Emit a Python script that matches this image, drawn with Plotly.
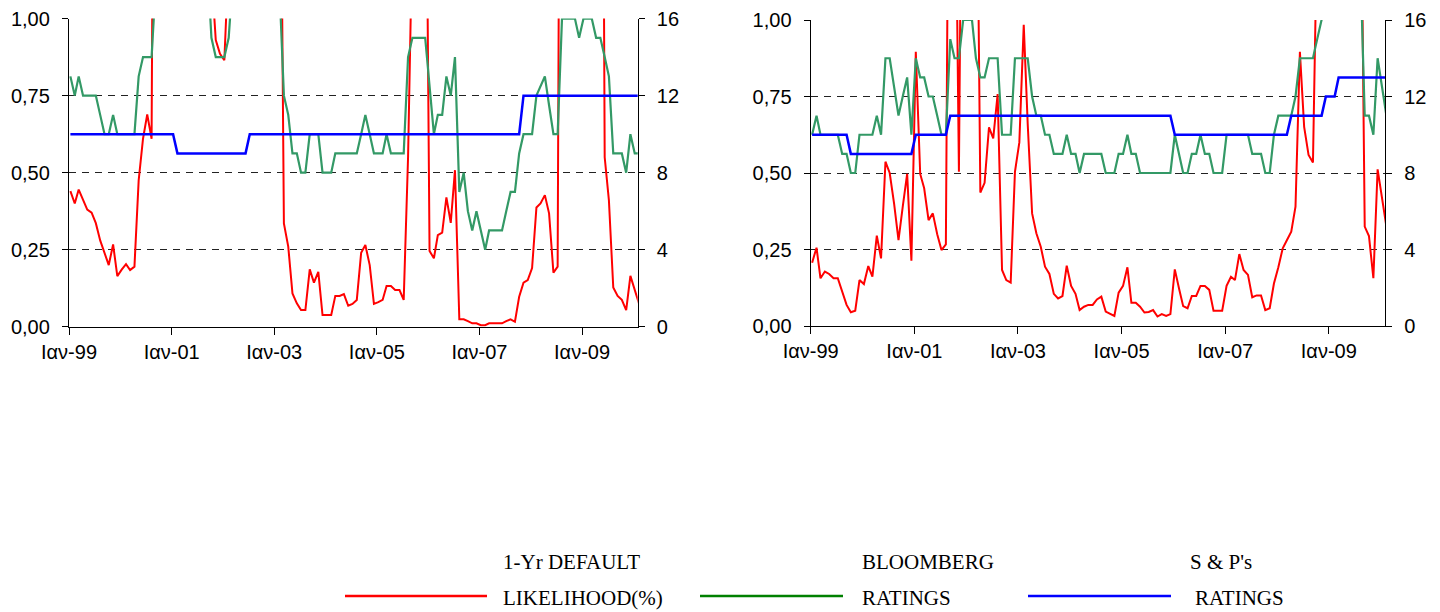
import pandas as pd
import plotly.graph_objects as go

# ---------------- data (monthly, Jan-1999 .. Feb-2010) ----------------
dates = pd.date_range("1999-01-01", periods=134, freq="MS") + pd.Timedelta(days=10)

tick_dates = ["1999-01-01", "2001-01-01", "2003-01-01", "2005-01-01", "2007-01-01", "2009-01-01"]
tick_labels = ["Ιαν-99", "Ιαν-01", "Ιαν-03", "Ιαν-05", "Ιαν-07", "Ιαν-09"]
left_ticks = [0, 0.25, 0.5, 0.75, 1.0]
left_labels = ["0,00", "0,25", "0,50", "0,75", "1,00"]
right_ticks = [0, 4, 8, 12, 16]
right_labels = ["0", "4", "8", "12", "16"]

# left chart
red_left = [0.44, 0.40, 0.445, 0.41, 0.38, 0.37, 0.336, 0.28, 0.24, 0.20,
            0.267, 0.164, 0.185, 0.203, 0.184, 0.195, 0.475, 0.61, 0.689, 0.61,
            3.4, 4.1, 4.6, 5.2, 4.8, 5.5, 6.1, 5.7, 4.9, 4.3,
            3.9, 3.5, 2.6, 1.15, 0.93, 0.886, 0.865, 1.2, 2.4, 3.1,
            3.6, 4.2, 4.8, 4.4, 3.9, 3.5, 3.2, 2.9, 2.6, 1.9,
            0.335, 0.26, 0.108, 0.076, 0.054, 0.054, 0.186, 0.143, 0.178, 0.038,
            0.038, 0.038, 0.10, 0.10, 0.106, 0.068, 0.074, 0.087, 0.24, 0.265,
            0.20, 0.074, 0.08, 0.087, 0.132, 0.132, 0.119, 0.119, 0.087, 0.55,
            1.3, 2.5, 2.8, 2.0, 0.246, 0.222, 0.297, 0.305, 0.42, 0.337,
            0.508, 0.024, 0.024, 0.018, 0.011, 0.011, 0.005, 0.005, 0.011, 0.011,
            0.011, 0.011, 0.018, 0.024, 0.016, 0.097, 0.143, 0.151, 0.19, 0.387,
            0.40, 0.427, 0.368, 0.175, 0.195, 3.6, 3.9, 4.3, 4.0, 4.5,
            4.1, 3.8, 3.4, 3.0, 3.6, 0.55, 0.41, 0.127, 0.10, 0.087,
            0.054, 0.165, 0.12, 0.074]

green_left = [13, 12, 13, 12, 12, 12, 12, 11, 10, 10,
              11, 10, 10, 10, 10, 10, 13, 14, 14, 14,
              18, 19, 19, 20, 19, 18, 19, 20, 20, 19,
              19, 20, 19, 15, 14, 14, 14, 15, 18, 19,
              19, 20, 19, 19, 18, 18, 19, 18, 18, 17,
              12, 11, 9, 9, 8, 8, 10, 10, 10, 8,
              8, 8, 9, 9, 9, 9, 9, 9, 10, 11,
              10, 9, 9, 9, 10, 9, 9, 9, 9, 14,
              15, 15, 15, 15, 12.5, 10, 11, 11, 13, 12,
              14, 7, 8, 6, 5, 6, 5, 4, 5, 5,
              5, 5, 6, 7, 7, 9, 10, 10, 10, 12,
              12.5, 13, 11.5, 10, 10, 16, 16, 16, 16, 15,
              16, 16, 16, 15, 15, 14, 13, 9, 9, 9,
              8, 10, 9, 9]

blue_left = [10, 10, 10, 10, 10, 10, 10, 10, 10, 10,
             10, 10, 10, 10, 10, 10, 10, 10, 10, 10,
             10, 10, 10, 10, 10, 9, 9, 9, 9, 9,
             9, 9, 9, 9, 9, 9, 9, 9, 9, 9,
             9, 9, 10, 10, 10, 10, 10, 10, 10, 10,
             10, 10, 10, 10, 10, 10, 10, 10, 10, 10,
             10, 10, 10, 10, 10, 10, 10, 10, 10, 10,
             10, 10, 10, 10, 10, 10, 10, 10, 10, 10,
             10, 10, 10, 10, 10, 10, 10, 10, 10, 10,
             10, 10, 10, 10, 10, 10, 10, 10, 10, 10,
             10, 10, 10, 10, 10, 10, 12, 12, 12, 12,
             12, 12, 12, 12, 12, 12, 12, 12, 12, 12,
             12, 12, 12, 12, 12, 12, 12, 12, 12, 12,
             12, 12, 12, 12]

# right chart
red_right = [0.207, 0.256, 0.156, 0.178, 0.170, 0.156, 0.156, 0.112, 0.069, 0.045,
             0.050, 0.150, 0.137, 0.196, 0.161, 0.295, 0.221, 0.537, 0.50, 0.40,
             0.281, 0.39, 0.497, 0.213, 0.896, 0.497, 0.45, 0.346, 0.368, 0.30,
             0.248, 0.267, 2.5, 1.8, 0.504, 2.2, 3.0, 2.6, 1.9, 0.436,
             0.468, 0.649, 0.613, 0.758, 0.183, 0.150, 0.142, 0.504, 0.60, 0.984,
             0.66, 0.368, 0.303, 0.259, 0.194, 0.170, 0.105, 0.090, 0.098, 0.197,
             0.131, 0.105, 0.052, 0.063, 0.069, 0.069, 0.087, 0.096, 0.047, 0.041,
             0.033, 0.109, 0.131, 0.192, 0.076, 0.076, 0.063, 0.044, 0.046, 0.052,
             0.031, 0.039, 0.033, 0.039, 0.185, 0.12, 0.065, 0.058, 0.098, 0.098,
             0.131, 0.131, 0.118, 0.05, 0.05, 0.05, 0.131, 0.161, 0.150, 0.235,
             0.183, 0.167, 0.094, 0.10, 0.10, 0.052, 0.058, 0.139, 0.192, 0.254,
             0.28, 0.308, 0.39, 0.896, 0.651, 0.559, 0.534, 1.4, 3.1, 3.7,
             4.2, 4.6, 4.3, 3.9, 3.4, 2.9, 2.5, 1.7, 0.325, 0.294,
             0.156, 0.512, 0.42, 0.325]

green_right = [10, 11, 10, 10, 10, 10, 10, 9, 9, 8,
               8, 10, 10, 10, 10, 11, 10, 14, 14, 12.5,
               11, 12, 13, 10, 14, 13, 13, 12, 12, 11,
               10, 10, 15, 14, 14, 16, 16, 16, 14, 13,
               13, 14, 14, 14, 10, 10, 10, 14, 14, 14,
               14, 12, 11, 11, 10, 10, 9, 9, 9, 10,
               9, 9, 8, 9, 9, 9, 9, 9, 8, 8,
               8, 9, 9, 10, 9, 9, 8, 8, 8, 8,
               8, 8, 8, 8, 10, 9, 8, 8, 9, 9,
               10, 9, 9, 8, 8, 8, 10, 10, 10, 10,
               10, 10, 9, 9, 9, 8, 8, 10, 11, 11,
               11, 11, 12, 14, 14, 14, 14, 15, 16, 17,
               18, 18, 19, 18, 18, 17, 18, 19, 11, 11,
               10, 14, 12.5, 11]

blue_right = [10, 10, 10, 10, 10, 10, 10, 10, 10, 9,
              9, 9, 9, 9, 9, 9, 9, 9, 9, 9,
              9, 9, 9, 9, 10, 10, 10, 10, 10, 10,
              10, 10, 11, 11, 11, 11, 11, 11, 11, 11,
              11, 11, 11, 11, 11, 11, 11, 11, 11, 11,
              11, 11, 11, 11, 11, 11, 11, 11, 11, 11,
              11, 11, 11, 11, 11, 11, 11, 11, 11, 11,
              11, 11, 11, 11, 11, 11, 11, 11, 11, 11,
              11, 11, 11, 11, 10, 10, 10, 10, 10, 10,
              10, 10, 10, 10, 10, 10, 10, 10, 10, 10,
              10, 10, 10, 10, 10, 10, 10, 10, 10, 10,
              10, 11, 11, 11, 11, 11, 11, 11, 11, 12,
              12, 12, 13, 13, 13, 13, 13, 13, 13, 13,
              13, 13, 13, 13]

legend_names = [("1-Yr DEFAULT", "LIKELIHOOD(%)"), ("BLOOMBERG", "RATINGS"), ("S & P's", "RATINGS")]

RED, GREEN, BLUE = "#ff0000", "#339966", "#0000ff"

# the page body has an 8px margin: size the figure so it fills the window exactly
OFF = 8
W, H = 1440 - OFF, 612 - OFF


def px(x):
    return (x - OFF) / W


def py(y):
    return 1 - (y - OFF) / H


fig = go.Figure()
fig.add_trace(go.Scatter(x=dates, y=red_left, xaxis="x", yaxis="y", mode="lines",
                         line=dict(color=RED, width=2), showlegend=False, name="1-Yr DEFAULT LIKELIHOOD(%)"))
fig.add_trace(go.Scatter(x=dates, y=green_left, xaxis="x", yaxis="y2", mode="lines",
                         line=dict(color=GREEN, width=2.2), showlegend=False, name="BLOOMBERG RATINGS"))
fig.add_trace(go.Scatter(x=dates, y=blue_left, xaxis="x", yaxis="y2", mode="lines",
                         line=dict(color=BLUE, width=2.5), showlegend=False, name="S & P's RATINGS"))
fig.add_trace(go.Scatter(x=dates, y=red_right, xaxis="x2", yaxis="y3", mode="lines",
                         line=dict(color=RED, width=2), showlegend=False, name="1-Yr DEFAULT LIKELIHOOD(%)"))
fig.add_trace(go.Scatter(x=dates, y=green_right, xaxis="x2", yaxis="y4", mode="lines",
                         line=dict(color=GREEN, width=2.2), showlegend=False, name="BLOOMBERG RATINGS"))
fig.add_trace(go.Scatter(x=dates, y=blue_right, xaxis="x2", yaxis="y4", mode="lines",
                         line=dict(color=BLUE, width=2.5), showlegend=False, name="S & P's RATINGS"))

tickfont = dict(family="Liberation Sans, Arial, sans-serif", size=20, color="#000")


def xax(domain, anchor):
    return dict(domain=domain, anchor=anchor, type="date", automargin=False,
                range=["1999-01-01", "2010-02-01"],
                tickmode="array", tickvals=tick_dates, ticktext=tick_labels,
                ticks="outside", ticklen=7, tickwidth=1.3, tickcolor="#000",
                showline=True, linecolor="#000", linewidth=1.3,
                showgrid=False, zeroline=False, tickfont=tickfont,
                ticklabeloverflow="allow")


def yleft(domain, anchor):
    return dict(domain=domain, anchor=anchor, range=[0, 1], automargin=False,
                tickmode="array", tickvals=left_ticks, ticktext=left_labels,
                ticks="outside", ticklen=6, tickwidth=1.3, tickcolor="#000",
                showline=True, linecolor="#000", linewidth=1.3,
                showgrid=True, gridcolor="#222", gridwidth=1.3, griddash="7px,6px",
                zeroline=False, tickfont=tickfont, ticklabelstandoff=8,
                ticklabeloverflow="allow")


def yright(over, anchor):
    return dict(overlaying=over, anchor=anchor, side="right", range=[0, 16], automargin=False,
                tickmode="array", tickvals=right_ticks, ticktext=right_labels,
                ticks="outside", ticklen=6, tickwidth=1.3, tickcolor="#000",
                showline=True, linecolor="#000", linewidth=1.3,
                showgrid=False, zeroline=False, tickfont=tickfont, ticklabelstandoff=8,
                ticklabeloverflow="allow")


fig.update_layout(
    template="none",
    width=W, height=H,
    margin=dict(l=0, r=0, t=0, b=0, pad=0),
    paper_bgcolor="white", plot_bgcolor="white",
    showlegend=False,
    xaxis=xax([px(69), px(637.7)], "y"),
    yaxis=yleft([py(326.7), py(18.6)], "x"),
    yaxis2=yright("y", "x"),
    xaxis2=xax([px(810.7), px(1385)], "y3"),
    yaxis3=yleft([py(326), py(20)], "x2"),
    yaxis4=yright("y3", "x2"),
)

# ---------------- legend (drawn manually) ----------------
legend_items = [
    (RED, 345, 487, 501, 501),
    ("#008000", 700, 843, 860, 860),
    (BLUE, 1028, 1171, 1188, 1193),
]
legfont = dict(family="Liberation Serif, Times New Roman, serif", size=21, color="#000")
for (color, x0, x1, tx1, tx2), (line1, line2) in zip(legend_items, legend_names):
    fig.add_shape(type="line", xref="paper", yref="paper",
                  x0=px(x0), x1=px(x1), y0=py(596), y1=py(596),
                  line=dict(color=color, width=2.5))
    fig.add_annotation(xref="paper", yref="paper", x=px(tx1), y=py(562),
                       text=line1, showarrow=False, xanchor="left", yanchor="middle", font=legfont)
    fig.add_annotation(xref="paper", yref="paper", x=px(tx2), y=py(598),
                       text=line2, showarrow=False, xanchor="left", yanchor="middle", font=legfont)

fig.write_html("out.html")
